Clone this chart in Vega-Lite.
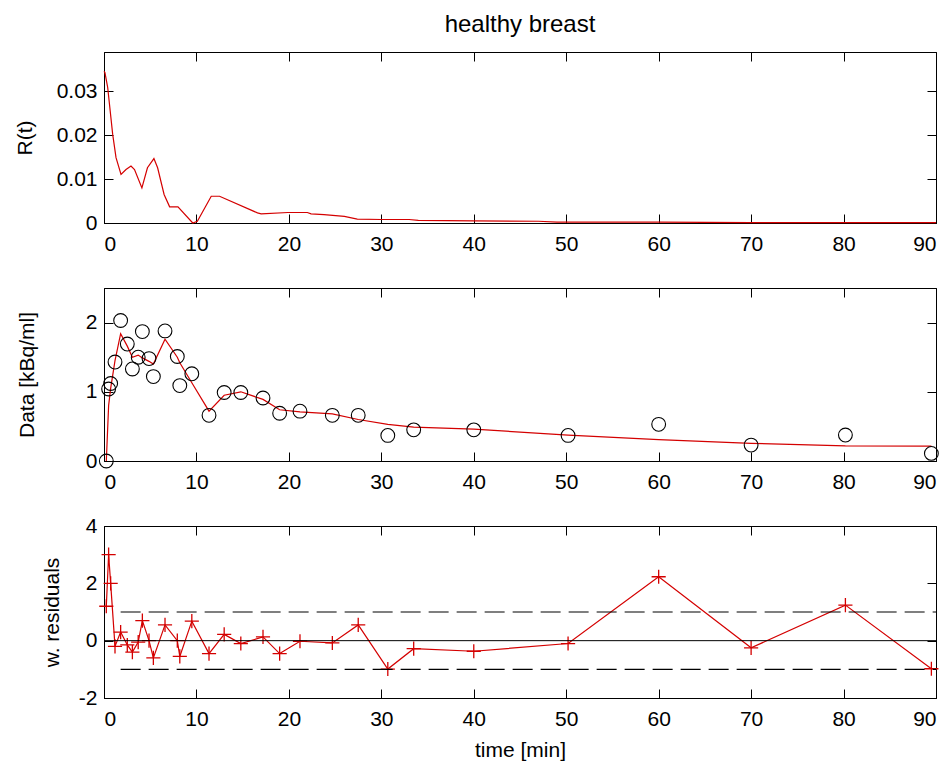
{
  "$schema": "https://vega.github.io/schema/vega-lite/v6.json",
  "background": "white",
  "padding": {"left": 13, "top": 12, "right": 5, "bottom": 5},
  "spacing": 65,
  "bounds": "flush",
  "config": {
    "view": {"stroke": "black", "strokeWidth": 1},
    "axis": {
      "grid": false, "domainColor": "black", "domainWidth": 1, "tickColor": "black", "tickWidth": 1, "tickSize": -9,
      "labelFont": "Liberation Sans", "labelFontSize": 21, "labelColor": "black",
      "titleFont": "Liberation Sans", "titleFontSize": 21, "titleFontWeight": "normal", "titleColor": "black"
    }
  },
  "datasets": {
    "R": [
      {"t": 0, "r": 0.0346}, {"t": 0.1, "r": 0.0343}, {"t": 0.4, "r": 0.0309}, {"t": 0.94, "r": 0.0202},
      {"t": 1.3, "r": 0.0149}, {"t": 1.84, "r": 0.0111}, {"t": 2.38, "r": 0.0122}, {"t": 2.92, "r": 0.013},
      {"t": 3.3, "r": 0.0122}, {"t": 4.1, "r": 0.008}, {"t": 4.7, "r": 0.0126}, {"t": 5.4, "r": 0.0147},
      {"t": 5.8, "r": 0.0126}, {"t": 6.5, "r": 0.0065}, {"t": 7.1, "r": 0.0037}, {"t": 8.0, "r": 0.0037},
      {"t": 9.6, "r": 0.0}, {"t": 10.1, "r": 0.0004}, {"t": 11.6, "r": 0.0061}, {"t": 12.5, "r": 0.0061},
      {"t": 16.6, "r": 0.0023}, {"t": 17.0, "r": 0.0021}, {"t": 19.9, "r": 0.0024}, {"t": 22.0, "r": 0.0024},
      {"t": 22.4, "r": 0.0021}, {"t": 23.8, "r": 0.0019}, {"t": 26, "r": 0.0015}, {"t": 27.4, "r": 0.0009},
      {"t": 30, "r": 0.0008}, {"t": 33, "r": 0.0008}, {"t": 34, "r": 0.0006}, {"t": 40, "r": 0.0005},
      {"t": 47, "r": 0.0004}, {"t": 49, "r": 0.0002}, {"t": 60, "r": 0.0002}, {"t": 70, "r": 0.0001},
      {"t": 90, "r": 0.0001}
    ],
    "D": [
      {"t": 0.25, "d": 0.0, "fit": 0.0, "res": 1.2},
      {"t": 0.5, "d": 1.04, "fit": 0.8, "res": 3.0},
      {"t": 0.72, "d": 1.12, "fit": 1.05, "res": 2.0},
      {"t": 1.19, "d": 1.43, "fit": 1.45, "res": -0.2},
      {"t": 1.8, "d": 2.03, "fit": 1.84, "res": 0.3},
      {"t": 2.52, "d": 1.69, "fit": 1.66, "res": -0.15},
      {"t": 3.07, "d": 1.33, "fit": 1.5, "res": -0.4},
      {"t": 3.7, "d": 1.5, "fit": 1.53, "res": -0.05},
      {"t": 4.15, "d": 1.87, "fit": 1.49, "res": 0.7},
      {"t": 4.87, "d": 1.48, "fit": 1.44, "res": 0.0},
      {"t": 5.34, "d": 1.22, "fit": 1.4, "res": -0.6},
      {"t": 6.6, "d": 1.88, "fit": 1.76, "res": 0.55},
      {"t": 7.93, "d": 1.51, "fit": 1.5, "res": 0.0},
      {"t": 8.2, "d": 1.09, "fit": 1.42, "res": -0.55},
      {"t": 9.5, "d": 1.26, "fit": 1.13, "res": 0.68},
      {"t": 11.36, "d": 0.66, "fit": 0.72, "res": -0.45},
      {"t": 13.0, "d": 0.99, "fit": 0.95, "res": 0.22},
      {"t": 14.8, "d": 0.99, "fit": 1.0, "res": -0.1},
      {"t": 17.2, "d": 0.91, "fit": 0.89, "res": 0.13},
      {"t": 19.0, "d": 0.69, "fit": 0.74, "res": -0.45},
      {"t": 21.2, "d": 0.72, "fit": 0.71, "res": -0.02},
      {"t": 24.7, "d": 0.66, "fit": 0.68, "res": -0.08},
      {"t": 27.5, "d": 0.66, "fit": 0.6, "res": 0.55},
      {"t": 30.7, "d": 0.37, "fit": 0.53, "res": -0.99},
      {"t": 33.5, "d": 0.45, "fit": 0.49, "res": -0.28},
      {"t": 40, "d": 0.45, "fit": 0.46, "res": -0.37},
      {"t": 50.2, "d": 0.37, "fit": 0.375, "res": -0.1},
      {"t": 60, "d": 0.53, "fit": 0.31, "res": 2.23},
      {"t": 70, "d": 0.23, "fit": 0.255, "res": -0.25},
      {"t": 80.2, "d": 0.375, "fit": 0.22, "res": 1.24},
      {"t": 89.5, "d": 0.11, "fit": 0.216, "res": -0.98}
    ],
    "REF": [
      {"t0": 0, "t1": 90, "y": 0, "kind": "zero"},
      {"t0": 1.8, "t1": 90, "y": 1, "kind": "dash"},
      {"t0": 1.8, "t1": 90, "y": -1, "kind": "dash"}
    ]
  },
  "vconcat": [
    {
      "width": 832, "height": 171,
      "title": {"text": "healthy breast", "font": "Liberation Sans", "fontSize": 24, "fontWeight": "normal", "anchor": "middle", "baseline": "alphabetic", "offset": -4, "color": "black"},
      "data": {"name": "R"},
      "layer": [
        {
          "mark": {"type": "line", "color": "#d40000", "strokeWidth": 1.2},
          "encoding": {
            "x": {"field": "t", "type": "quantitative", "scale": {"domain": [0, 90], "nice": false, "zero": false},
                  "axis": {"orient": "bottom", "values": [0, 10, 20, 30, 40, 50, 60, 70, 80, 90], "labelPadding": 19, "title": null}},
            "y": {"field": "r", "type": "quantitative", "scale": {"domain": [0, 0.039], "nice": false},
                  "axis": {"orient": "left", "values": [0, 0.01, 0.02, 0.03], "labelPadding": 16, "labelExpr": "datum.value == 0 ? '0' : format(datum.value, '.2f')", "title": "R(t)", "titleX": -73, "titleBaseline": "alphabetic"}}
          }
        },
        {
          "mark": {"type": "line", "opacity": 0},
          "encoding": {
            "x": {"field": "t", "type": "quantitative", "scale": {"domain": [0, 90], "nice": false, "zero": false},
                  "axis": {"orient": "top", "values": [10, 20, 30, 40, 50, 60, 70, 80], "labels": false, "title": null}},
            "y": {"field": "r", "type": "quantitative", "scale": {"domain": [0, 0.039], "nice": false},
                  "axis": {"orient": "right", "values": [0.01, 0.02, 0.03], "labels": false, "title": null}}
          }
        }
      ],
      "resolve": {"axis": {"x": "independent", "y": "independent"}}
    },
    {
      "width": 832, "height": 173,
      "data": {"name": "D"},
      "layer": [
        {
          "mark": {"type": "line", "color": "#d40000", "strokeWidth": 1.2},
          "encoding": {
            "x": {"field": "t", "type": "quantitative", "scale": {"domain": [0, 90], "nice": false, "zero": false},
                  "axis": {"orient": "bottom", "values": [0, 10, 20, 30, 40, 50, 60, 70, 80, 90], "labelPadding": 19, "title": null}},
            "y": {"field": "fit", "type": "quantitative", "scale": {"domain": [0, 2.5], "nice": false},
                  "axis": {"orient": "left", "values": [0, 1, 2], "labelPadding": 16, "title": "Data [kBq/ml]", "titleX": -71, "titleBaseline": "alphabetic"}}
          }
        },
        {
          "mark": {"type": "point", "shape": "circle", "filled": false, "stroke": "black", "strokeWidth": 1.1, "size": 190, "opacity": 1},
          "encoding": {
            "x": {"field": "t", "type": "quantitative", "scale": {"domain": [0, 90], "nice": false, "zero": false},
                  "axis": {"orient": "top", "values": [10, 20, 30, 40, 50, 60, 70, 80], "labels": false, "title": null}},
            "y": {"field": "d", "type": "quantitative", "scale": {"domain": [0, 2.5], "nice": false},
                  "axis": {"orient": "right", "values": [1, 2], "labels": false, "title": null}}
          }
        }
      ],
      "resolve": {"axis": {"x": "independent", "y": "independent"}}
    },
    {
      "width": 832, "height": 172,
      "layer": [
        {
          "data": {"name": "D"},
          "mark": {"type": "line", "color": "#d40000", "strokeWidth": 1.2},
          "encoding": {
            "x": {"field": "t", "type": "quantitative", "scale": {"domain": [0, 90], "nice": false, "zero": false},
                  "axis": {"orient": "bottom", "values": [0, 10, 20, 30, 40, 50, 60, 70, 80, 90], "labelPadding": 19, "title": "time [min]", "titlePadding": 10}},
            "y": {"field": "res", "type": "quantitative", "scale": {"domain": [-2, 4], "nice": false, "zero": false},
                  "axis": {"orient": "left", "values": [-2, 0, 2, 4], "labelPadding": 16, "labelExpr": "datum.value < 0 ? '-' + format(-datum.value, 'd') : format(datum.value, 'd')", "title": "w. residuals", "titleX": -46, "titleBaseline": "alphabetic"}}
          }
        },
        {
          "data": {"name": "D"},
          "mark": {"type": "point", "shape": "M-1,0H1M0,-1V1", "filled": false, "stroke": "#d40000", "strokeWidth": 1.3, "size": 200, "opacity": 1},
          "encoding": {
            "x": {"field": "t", "type": "quantitative", "scale": {"domain": [0, 90], "nice": false, "zero": false},
                  "axis": {"orient": "top", "values": [10, 20, 30, 40, 50, 60, 70, 80], "labels": false, "title": null}},
            "y": {"field": "res", "type": "quantitative", "scale": {"domain": [-2, 4], "nice": false, "zero": false},
                  "axis": {"orient": "right", "values": [0, 2], "labels": false, "title": null}}
          }
        },
        {
          "data": {"name": "REF"},
          "transform": [{"filter": "datum.kind == 'zero'"}],
          "mark": {"type": "rule", "color": "black", "strokeWidth": 1},
          "encoding": {
            "x": {"field": "t0", "type": "quantitative", "axis": null},
            "x2": {"field": "t1"},
            "y": {"field": "y", "type": "quantitative", "axis": null}
          }
        },
        {
          "data": {"name": "REF"},
          "transform": [{"filter": "datum.kind == 'dash'"}],
          "mark": {"type": "rule", "color": "black", "strokeWidth": 1.2, "strokeDash": [20, 8]},
          "encoding": {
            "x": {"field": "t0", "type": "quantitative", "axis": null},
            "x2": {"field": "t1"},
            "y": {"field": "y", "type": "quantitative", "axis": null}
          }
        }
      ],
      "resolve": {"axis": {"x": "independent", "y": "independent"}}
    }
  ]
}
